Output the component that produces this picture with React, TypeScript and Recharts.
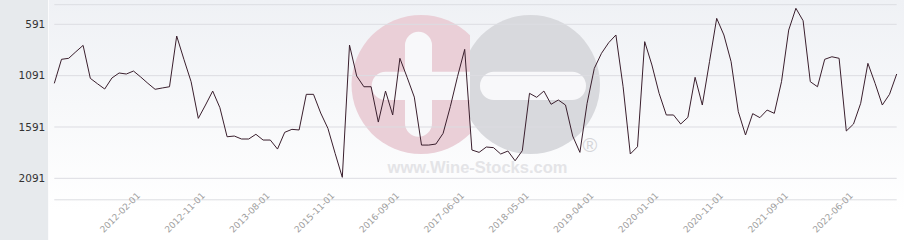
import React from "react";
import { LineChart, Line, XAxis, YAxis, CartesianGrid } from "recharts";

// monthly quotes, some months missing
const dates = [
  "2011-02-01", "2011-03-01", "2011-04-01", "2011-05-01", "2011-06-01", "2011-07-01",
  "2011-08-01", "2011-09-01", "2011-10-01", "2011-11-01", "2011-12-01", "2012-01-01",
  "2012-02-01", "2012-03-01", "2012-04-01", "2012-05-01", "2012-06-01", "2012-07-01",
  "2012-08-01", "2012-09-01", "2012-10-01", "2012-11-01", "2012-12-01", "2013-01-01",
  "2013-02-01", "2013-03-01", "2013-04-01", "2013-05-01", "2013-06-01", "2013-07-01",
  "2013-08-01", "2013-09-01", "2013-10-01", "2013-12-01", "2014-03-01", "2014-06-01",
  "2014-10-01", "2015-02-01", "2015-07-01", "2015-11-01", "2015-12-01", "2016-01-01",
  "2016-02-01", "2016-03-01", "2016-04-01", "2016-05-01", "2016-06-01", "2016-08-01",
  "2016-09-01", "2016-10-01", "2016-11-01", "2016-12-01", "2017-01-01", "2017-02-01",
  "2017-03-01", "2017-04-01", "2017-05-01", "2017-06-01", "2017-07-01", "2017-08-01",
  "2017-09-01", "2017-10-01", "2017-12-01", "2018-01-01", "2018-02-01", "2018-04-01",
  "2018-05-01", "2018-06-01", "2018-07-01", "2018-09-01", "2018-10-01", "2018-11-01",
  "2019-01-01", "2019-02-01", "2019-03-01", "2019-04-01", "2019-05-01", "2019-06-01",
  "2019-07-01", "2019-08-01", "2019-09-01", "2019-10-01", "2019-11-01", "2019-12-01",
  "2020-01-01", "2020-02-01", "2020-03-01", "2020-04-01", "2020-05-01", "2020-06-01",
  "2020-07-01", "2020-08-01", "2020-10-01", "2020-11-01", "2020-12-01", "2021-01-01",
  "2021-02-01", "2021-03-01", "2021-04-01", "2021-05-01", "2021-06-01", "2021-08-01",
  "2021-09-01", "2021-10-01", "2021-11-01", "2021-12-01", "2022-01-01", "2022-02-01",
  "2022-03-01", "2022-04-01", "2022-05-01", "2022-06-01", "2022-07-01", "2022-08-01",
  "2022-09-01", "2022-10-01", "2022-11-01", "2022-12-01",
];

const prices = [
  1166, 932, 922, 858, 796, 1117, 1170, 1221, 1114, 1065, 1075, 1046,
  1104, 1166, 1224, 1211, 1199, 705, 932, 1150, 1507, 1377, 1241, 1403,
  1686, 1679, 1708, 1708, 1662, 1718, 1718, 1806, 1643, 1614, 1620, 1273,
  1273, 1455, 1604, 1847, 2081, 793, 1095, 1199, 1199, 1543, 1241, 1474,
  922, 1107, 1300, 1767, 1767, 1757, 1653, 1393, 1101, 835, 1815, 1838,
  1786, 1792, 1854, 1825, 1920, 1822, 1263, 1302, 1241, 1370, 1328, 1377,
  1679, 1838, 1360, 1020, 873, 770, 695, 1199, 1854, 1783, 760, 987,
  1263, 1474, 1474, 1562, 1497, 1107, 1377, 955, 533, 695, 955, 1442,
  1669, 1461, 1500, 1426, 1458, 1150, 647, 435, 556, 1150, 1199, 932,
  907, 922, 1630, 1562, 1360, 971, 1166, 1377, 1273, 1075,
];

const yTicks = [591, 1091, 1591, 2091];

const labelDates = [
  "2012-02-01", "2012-11-01", "2013-08-01", "2015-11-01", "2016-09-01", "2017-06-01",
  "2018-05-01", "2019-04-01", "2020-01-01", "2020-11-01", "2021-09-01", "2022-06-01",
];

const data = dates.map((date, i) => ({ date, price: prices[i] }));
const labelSet = new Set(labelDates);

const XTick = (props: any) => {
  const { x, y, payload } = props;
  if (!labelSet.has(payload.value)) return <g />;
  const ty = y - 3.5;
  return (
    <text
      x={x}
      y={ty}
      transform={`rotate(-45 ${x} ${ty})`}
      textAnchor="end"
      fontSize={9}
      fill="#9e9e9e"
      fontFamily="'DejaVu Sans', sans-serif"
    >
      {payload.value}
    </text>
  );
};

function Watermark() {
  return (
    <svg width={904} height={240} style={{ position: "absolute", left: 0, top: 0 }}>
      <defs>
        <clipPath id="plusClip">
          <rect x={0} y={0} width={470} height={240} />
        </clipPath>
      </defs>
      <circle cx={530.5} cy={84.5} r={69.5} fill="#d8d9dd" />
      <g clipPath="url(#plusClip)">
        <circle cx={421} cy={84.5} r={69.5} fill="#eacfd7" />
        <rect x={405} y={31.7} width={27} height={105} rx={13.5} fill="#f8f8fa" />
        <rect x={371.7} y={71.7} width={120} height={28.3} rx={14} fill="#f8f8fa" />
      </g>
      <rect x={480} y={71.7} width={106} height={28.3} rx={14} fill="#f8f8fa" />
      <text x={582.5} y={152} fontSize={20} fill="#d5d5d8" fontFamily="'Liberation Sans', sans-serif">
        ®
      </text>
      <text
        x={477.5}
        y={173}
        textAnchor="middle"
        fontSize={16.5}
        fontWeight="bold"
        fill="#e4e4e7"
        fontFamily="'Liberation Sans', sans-serif"
      >
        www.Wine-Stocks.com
      </text>
    </svg>
  );
}

export default function App() {
  return (
    <div style={{ position: "fixed", left: 0, top: 0, width: 904, height: 240, overflow: "hidden", background: "#fff" }}>
      <div style={{ position: "absolute", left: 0, top: 0, width: 48, height: 240, background: "#e7eaed", borderRight: "1px solid #fbfbfc" }} />
      <div style={{ position: "absolute", left: 49, top: 0, width: 855, height: 240, background: "linear-gradient(#eff1f5, #ffffff 88%)" }} />
      <Watermark />
      <div style={{ position: "absolute", left: 0, top: 0 }}>
        <LineChart width={904} height={240} data={data} margin={{ top: 4.7, right: 7.3, bottom: 0, left: 0 }}>
          <CartesianGrid vertical={false} stroke="#dcdde2" />
          <XAxis
            dataKey="date"
            interval={0}
            height={40.2}
            axisLine={false}
            tickLine={false}
            tickSize={0}
            tickMargin={0}
            tick={<XTick />}
          />
          <YAxis
            reversed
            domain={[400, 2300]}
            ticks={yTicks}
            width={54.3}
            axisLine={false}
            tickLine={false}
            tickSize={0}
            tickMargin={9}
            tick={{ fill: "#333", fontSize: 10.5, fontFamily: "'DejaVu Sans', sans-serif" }}
          />
          <Line
            type="linear"
            dataKey="price"
            stroke="#3a1f2d"
            strokeWidth={1}
            dot={false}
            isAnimationActive={false}
          />
        </LineChart>
      </div>
    </div>
  );
}
